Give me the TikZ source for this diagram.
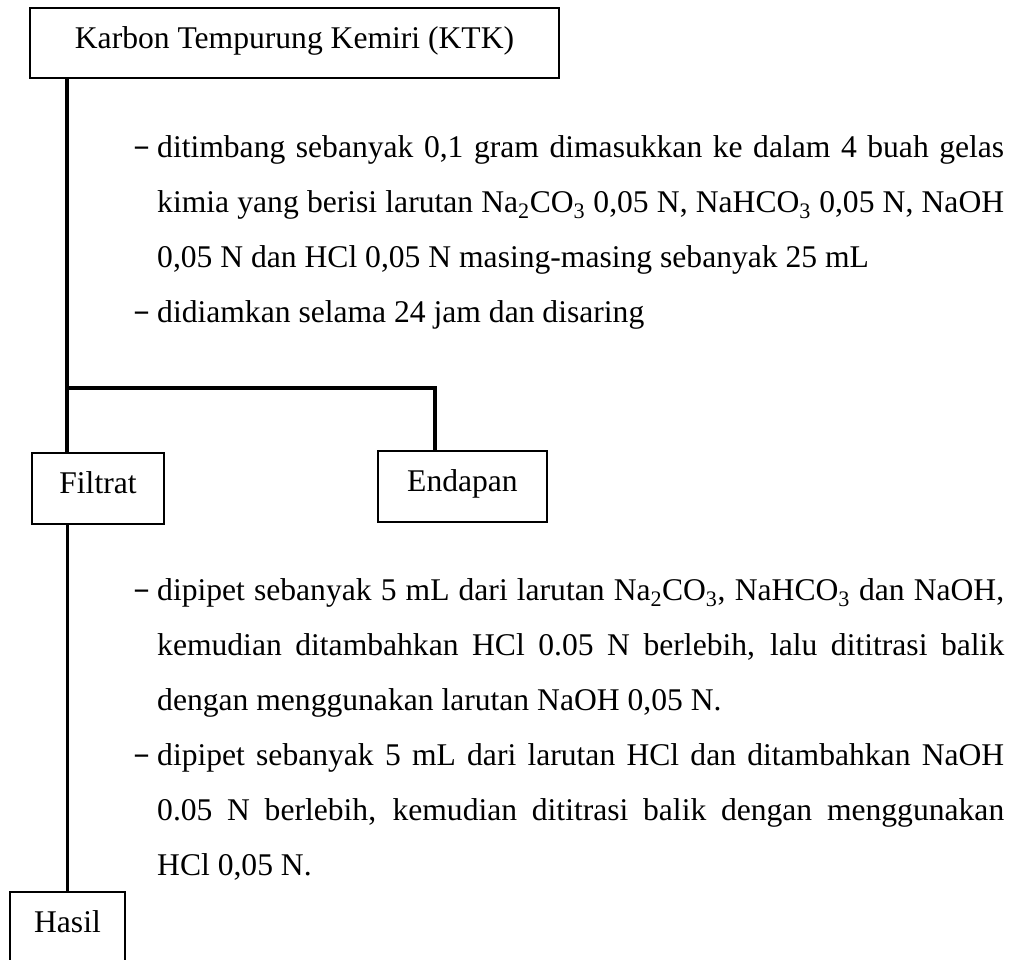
\documentclass[tikz,border=0pt]{standalone}
\usepackage{fontspec}
\setmainfont{Liberation Serif}
\newcommand\jline[1]{\makebox[847pt][s]{#1}}
\newcommand\stepdash{\raisebox{1.5pt}{\scalebox{0.82}[1]{\textbf{–}}}}
\begin{document}
\begin{tikzpicture}[x=1pt,y=-1pt,
  box/.style={draw, line width=1.2pt, inner sep=0pt, text height=20pt, text depth=10pt, font=\fontsize{31.6}{38}\selectfont},
  link/.style={line width=3.3pt},
  txt/.style={anchor=base west, inner sep=0pt, font=\fontsize{31.6}{38}\selectfont}]
\useasboundingbox (0,0) rectangle (1015,959);
% boxes
\node[box, minimum width=529pt, minimum height=70pt] (ktk) at (294.5,43) {Karbon Tempurung Kemiri (KTK)};
\node[box, minimum width=132pt, minimum height=71pt] (filtrat) at (98,488.5) {Filtrat};
\node[box, minimum width=169pt, minimum height=71pt] (endapan) at (462.5,486.5) {Endapan};
\node[box, minimum width=115pt, minimum height=70pt] (hasil) at (67.5,927) {Hasil};
% connectors
\coordinate (j) at (67,388);
\coordinate (e) at (435,388);
\draw[link] (ktk.south -| j) -- (filtrat.north -| j);
\draw[link] (j) -- (e) -- (e |- endapan.north);
\draw[link] (filtrat.south -| hasil.north) -- (hasil.north);
% upper steps
\node[txt] (ud1) at (135,157) {\stepdash};
\node[txt] (u1) at (157,157) {\jline{ditimbang sebanyak 0,1 gram dimasukkan ke dalam 4 buah gelas}};
\node[txt] (u2) at (157,212) {\jline{kimia yang berisi larutan Na\textsubscript{2}CO\textsubscript{3} 0,05 N, NaHCO\textsubscript{3} 0,05 N, NaOH}};
\node[txt] (u3) at (157,267) {0,05 N dan HCl 0,05 N masing-masing sebanyak 25 mL};
\node[txt] (ud2) at (135,322) {\stepdash};
\node[txt] (u4) at (157,322) {didiamkan selama 24 jam dan disaring};
% lower steps
\node[txt] (ld1) at (135,600) {\stepdash};
\node[txt] (l1) at (157,600) {\jline{dipipet sebanyak 5 mL dari larutan Na\textsubscript{2}CO\textsubscript{3}, NaHCO\textsubscript{3} dan NaOH,}};
\node[txt] (l2) at (157,655) {\jline{kemudian ditambahkan HCl 0.05 N berlebih, lalu dititrasi balik}};
\node[txt] (l3) at (157,710) {dengan menggunakan larutan NaOH 0,05 N.};
\node[txt] (ld2) at (135,765) {\stepdash};
\node[txt] (l4) at (157,765) {\jline{dipipet sebanyak 5 mL dari larutan HCl dan ditambahkan NaOH}};
\node[txt] (l5) at (157,820) {\jline{0.05 N berlebih, kemudian dititrasi balik dengan menggunakan}};
\node[txt] (l6) at (157,875) {HCl 0,05 N.};
\end{tikzpicture}
\end{document}
